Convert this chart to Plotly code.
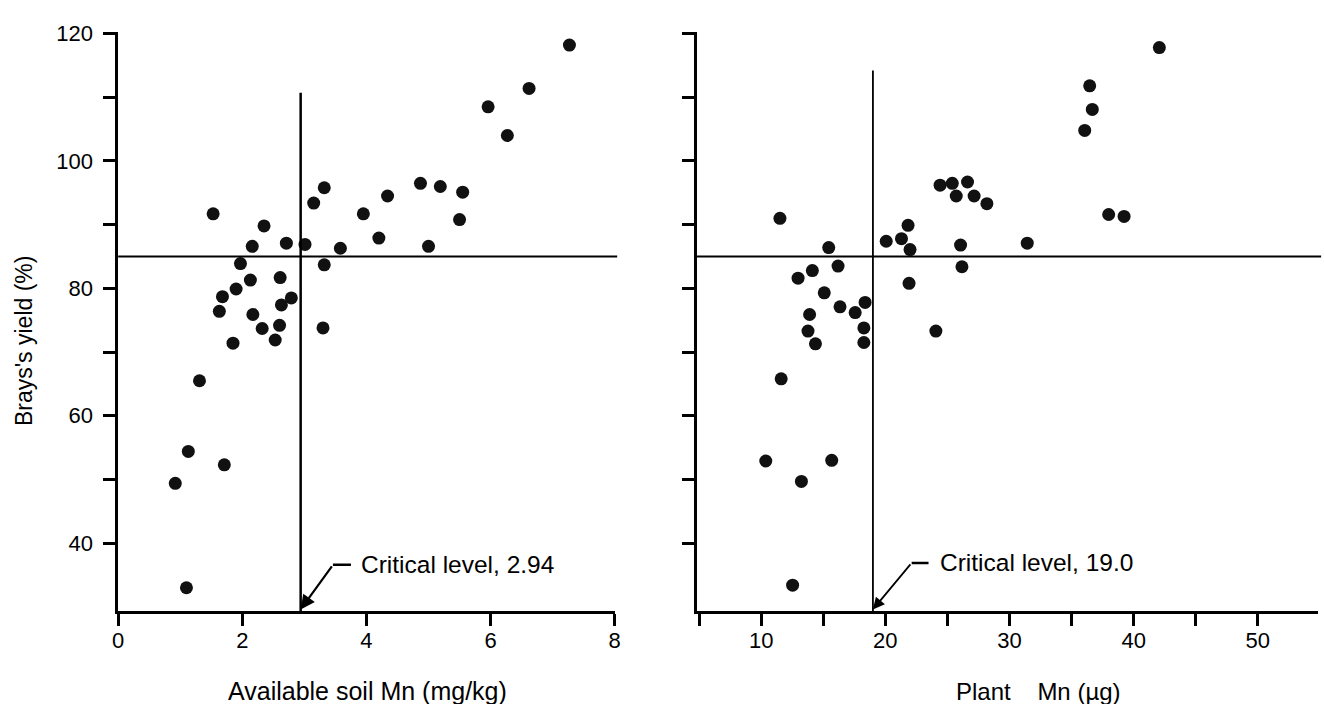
import plotly.graph_objects as go

# ---- data ----
soil_mn = [1.53, 2.35, 2.16, 2.71, 3.01, 3.15, 3.32, 3.58, 3.95, 4.20, 4.34, 1.97, 3.32, 2.13,
           2.61, 1.90, 1.68, 2.79, 1.63, 2.63, 2.17, 2.32, 2.60, 3.30, 2.53, 1.85, 1.31, 7.27,
           6.62, 5.96, 6.27, 4.87, 5.19, 5.55, 5.50, 5.00, 1.13, 1.71, 0.92, 1.10]
soil_yield = [91.7, 89.8, 86.6, 87.1, 86.9, 93.4, 95.8, 86.3, 91.7, 87.9, 94.5, 83.9, 83.7, 81.3,
              81.7, 79.9, 78.7, 78.5, 76.4, 77.4, 75.9, 73.7, 74.2, 73.8, 71.9, 71.4, 65.5, 118.2,
              111.4, 108.5, 104.0, 96.5, 96.0, 95.1, 90.8, 86.6, 54.4, 52.3, 49.4, 33.0]

plant_mn = [11.51, 15.44, 16.19, 14.12, 12.97, 15.08, 16.35, 17.57, 18.37, 13.90, 13.77, 18.27,
            14.37, 18.27, 11.61, 10.37, 15.68, 20.07, 21.30, 21.83, 21.99, 21.91, 24.07, 26.06,
            26.17, 24.41, 25.39, 26.62, 25.71, 27.15, 28.18, 31.43, 42.07, 36.46, 36.67, 36.06,
            37.99, 39.23, 12.53, 13.24]
plant_yield = [91.0, 86.4, 83.5, 82.8, 81.6, 79.3, 77.1, 76.2, 77.8, 75.9, 73.3, 73.8, 71.3, 71.5,
               65.8, 52.9, 53.0, 87.4, 87.8, 89.9, 86.1, 80.8, 73.3, 86.8, 83.4, 96.2, 96.5, 96.7,
               94.5, 94.5, 93.3, 87.1, 117.8, 111.8, 108.1, 104.8, 91.6, 91.3, 33.4, 49.7]

yield_threshold = 85
soil_critical = 2.94
plant_critical = 19.0

y_tickvals = [40, 50, 60, 70, 80, 90, 100, 110, 120]
y_ticktext_left = ["40", "", "60", "", "80", "", "100", "", "120"]
soil_tickvals = [0, 2, 4, 6, 8]
soil_ticktext = ["0", "2", "4", "6", "8"]
plant_tickvals = [5, 10, 15, 20, 25, 30, 35, 40, 45, 50, 55]
plant_ticktext = ["", "10", "", "20", "", "30", "", "40", "", "50", ""]

FONT = "Liberation Sans, Arial, sans-serif"
Y_RANGE = [29.3, 120.3]

fig = go.Figure()
fig.add_trace(go.Scatter(x=soil_mn, y=soil_yield, mode="markers", xaxis="x", yaxis="y",
                         marker=dict(color="#111", size=13, line=dict(width=0)), showlegend=False))
fig.add_trace(go.Scatter(x=plant_mn, y=plant_yield, mode="markers", xaxis="x2", yaxis="y2",
                         marker=dict(color="#111", size=13, line=dict(width=0)), showlegend=False))

axis_common = dict(showgrid=False, zeroline=False, showline=True, linecolor="black", linewidth=2.5,
                   ticks="outside", tickcolor="black", tickwidth=2.5, ticklen=12,
                   tickfont=dict(family=FONT, size=22, color="black"))

fig.update_layout(
    width=1324, height=704,
    margin=dict(l=0, r=0, t=0, b=0),
    paper_bgcolor="white", plot_bgcolor="white",
    xaxis=dict(domain=[113.2 / 1324, 614.3 / 1324], range=[0, 8], anchor="y",
               tickvals=soil_tickvals, ticktext=soil_ticktext, ticklabelstandoff=-4, **axis_common),
    yaxis=dict(domain=[(704 - 610) / 704, (704 - 22) / 704], range=Y_RANGE, anchor="x",
               tickvals=y_tickvals, ticktext=y_ticktext_left, ticklabelstandoff=6, **axis_common),
    xaxis2=dict(domain=[697.2 / 1324, 1.0], range=[4.82, 54.85], anchor="y2",
                tickvals=plant_tickvals, ticktext=plant_ticktext, ticklabelstandoff=-4, **axis_common),
    yaxis2=dict(domain=[(704 - 610) / 704, (704 - 22) / 704], range=Y_RANGE, anchor="x2",
                tickvals=y_tickvals, ticktext=[""] * len(y_tickvals), **axis_common),
)

shapes = []
# 85 % yield threshold lines
for xr, yr in (("x", "y"), ("x2", "y2")):
    shapes.append(dict(type="line", xref=xr + " domain", yref=yr, x0=0, x1=1.005,
                       y0=yield_threshold, y1=yield_threshold,
                       line=dict(color="black", width=2)))
# critical level vertical lines
LEFT_VTOP = 110.7
RIGHT_VTOP = 114.2
shapes.append(dict(type="line", xref="x", yref="y", x0=soil_critical, x1=soil_critical,
                   y0=Y_RANGE[0], y1=LEFT_VTOP, line=dict(color="black", width=2.5)))
shapes.append(dict(type="line", xref="x2", yref="y2", x0=plant_critical, x1=plant_critical,
                   y0=Y_RANGE[0], y1=RIGHT_VTOP, line=dict(color="black", width=1.8)))
# short horizontal leader segments of the arrows
shapes.append(dict(type="line", xref="x", yref="y", x0=3.46, x1=3.75, y0=36.6, y1=36.6,
                   line=dict(color="black", width=2.5)))
shapes.append(dict(type="line", xref="x2", yref="y2", x0=22.12, x1=23.48, y0=36.9, y1=36.9,
                   line=dict(color="black", width=2.5)))
fig.update_layout(shapes=shapes)

ann = []
ann.append(dict(xref="x", yref="y", axref="x", ayref="y", x=soil_critical, y=Y_RANGE[0] + 0.3,
                ax=3.46, ay=36.6, text="", showarrow=True, arrowhead=2, arrowsize=1.3,
                arrowwidth=2.2, arrowcolor="black"))
ann.append(dict(xref="x2", yref="y2", axref="x2", ayref="y2", x=plant_critical, y=Y_RANGE[0] + 0.3,
                ax=22.12, ay=36.9, text="", showarrow=True, arrowhead=2, arrowsize=1.3,
                arrowwidth=1.8, arrowcolor="black"))
ann.append(dict(xref="x", yref="y", x=3.88, y=36.7, xanchor="left", yanchor="middle",
                text=f"Critical level, {soil_critical:.2f}", showarrow=False,
                font=dict(family=FONT, size=24.5, color="black")))
ann.append(dict(xref="x2", yref="y2", x=24.25, y=37.0, xanchor="left", yanchor="middle",
                text=f"Critical level, {plant_critical:.1f}", showarrow=False,
                font=dict(family=FONT, size=24.5, color="black")))
# axis titles
ann.append(dict(xref="paper", yref="paper", x=365 / 1324, y=(704 - 691) / 704,
                xanchor="center", yanchor="middle", text="Available soil Mn (mg/kg)",
                showarrow=False, font=dict(family=FONT, size=25, color="black")))
ann.append(dict(xref="paper", yref="paper", x=1042 / 1324, y=(704 - 691) / 704,
                xanchor="center", yanchor="middle", text="Plant\u00a0\u00a0\u00a0\u00a0Mn (\u00b5g)",
                showarrow=False, font=dict(family=FONT, size=24, color="black")))
ann.append(dict(xref="paper", yref="paper", x=18 / 1324, y=(704 - 335) / 704,
                xanchor="center", yanchor="middle", text="Brays's yield (%)", textangle=-90,
                showarrow=False, font=dict(family=FONT, size=23, color="black")))
fig.update_layout(annotations=ann)

fig.write_html("out.html")
